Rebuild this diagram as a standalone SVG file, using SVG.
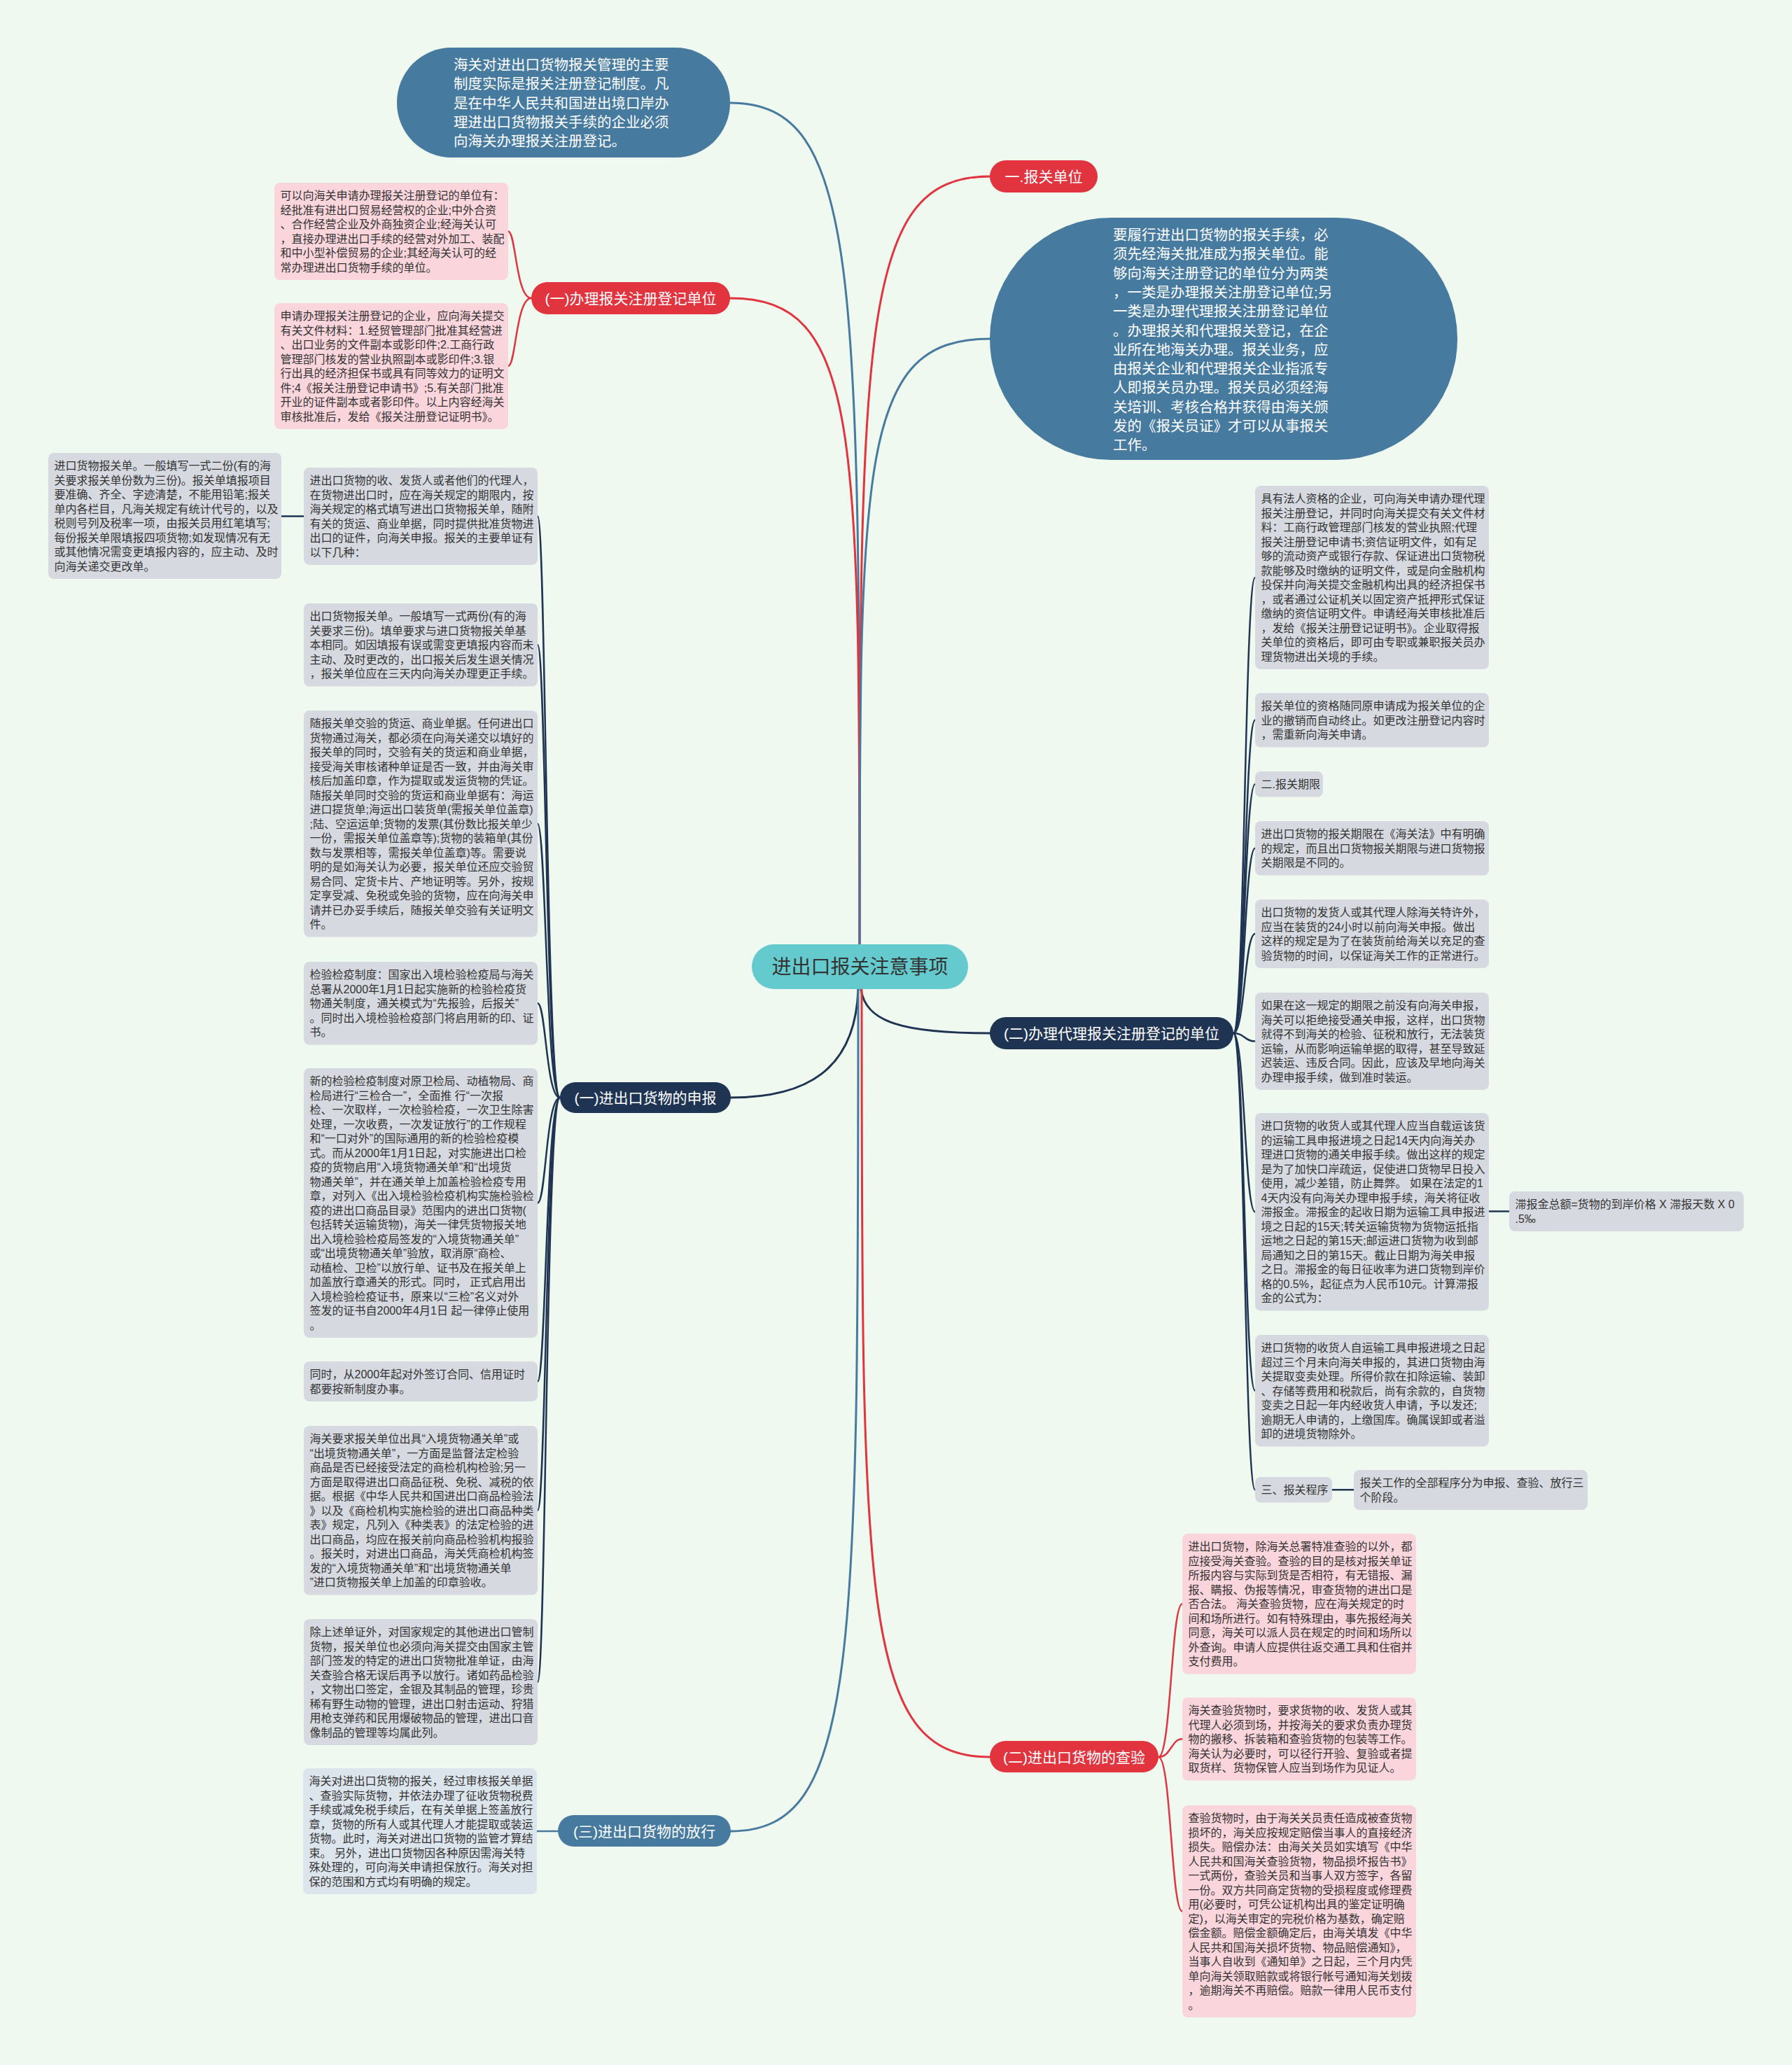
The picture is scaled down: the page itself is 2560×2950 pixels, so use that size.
<svg xmlns="http://www.w3.org/2000/svg" width="2560" height="2950" viewBox="0 0 2560 2950">
<style>
text{font-family:"Liberation Sans","Noto Sans CJK SC",sans-serif;dominant-baseline:central}
.t16{font-size:16px;fill:#333}
.tb{font-size:20.5px;fill:#fff}
.tn{font-size:21px;fill:#fff;text-anchor:middle}
.gray{fill:#d6dae0}
.lblue{fill:#dce4ec}
.pink{fill:#fbd5dc}
.red{fill:#e1343f}
.navy{fill:#1f3453}
.blue{fill:#477a9f}
.c{fill:none;stroke-width:3;stroke-linecap:round}
.cr{stroke:#e1343f}.cn{stroke:#1f3453}.cb{stroke:#477a9f}
.k{fill:none;stroke-width:2.5;stroke-linecap:round}
</style>
<rect width="2560" height="2950" fill="#f0f9ef"/>
<g id="connectors">
<path class="c cb" d="M1228,1349 C1228,387 1228,147 1043,147"/>
<path class="c cr" d="M1228,1349 C1228,471 1228,252 1414,252"/>
<path class="c cr" d="M1228,1349 C1228,611 1228,426 1043,426"/>
<path class="c cb" d="M1228,1349 C1228,657 1228,484 1414,484"/>
<path class="c cn" d="M1230,1413 C1236,1460 1290,1476 1414,1476"/>
<path class="c cn" d="M1226,1413 C1222,1530 1150,1568 1044,1568"/>
<path class="c cr" d="M1231,1413 C1231,2291 1231,2510 1414,2510"/>
<path class="c cb" d="M1226,1413 C1226,2375 1226,2616 1044,2616"/>
<path class="k cr" d="M759,426 C737,426 737,330.5 726,330.5"/>
<path class="k cr" d="M759,426 C737,426 737,523 726,523"/>
<path class="k cn" d="M800,1568 C780,1568 780,737.5 768,737.5"/>
<path class="k cn" d="M800,1568 C780,1568 780,921.25 768,921.25"/>
<path class="k cn" d="M800,1568 C780,1568 780,1176.75 768,1176.75"/>
<path class="k cn" d="M800,1568 C780,1568 780,1433.25 768,1433.25"/>
<path class="k cn" d="M800,1568 C780,1568 780,1718.5 768,1718.5"/>
<path class="k cn" d="M800,1568 C780,1568 780,1973.5 768,1973.5"/>
<path class="k cn" d="M800,1568 C780,1568 780,2157.75 768,2157.75"/>
<path class="k cn" d="M800,1568 C780,1568 780,2403 768,2403"/>
<path class="k cn" d="M402,737.5 L434,737.5"/>
<path class="k cb" d="M767,2616 L797,2616"/>
<path class="k cn" d="M1762,1476 C1778,1476 1778,825 1793,825"/>
<path class="k cn" d="M1762,1476 C1778,1476 1778,1028.75 1793,1028.75"/>
<path class="k cn" d="M1762,1476 C1778,1476 1778,1120.25 1793,1120.25"/>
<path class="k cn" d="M1762,1476 C1778,1476 1778,1211.75 1793,1211.75"/>
<path class="k cn" d="M1762,1476 C1778,1476 1778,1334 1793,1334"/>
<path class="k cn" d="M1762,1476 C1778,1476 1778,1487.5 1793,1487.5"/>
<path class="k cn" d="M1762,1476 C1778,1476 1778,1731.25 1793,1731.25"/>
<path class="k cn" d="M1762,1476 C1778,1476 1778,1986.75 1793,1986.75"/>
<path class="k cn" d="M1762,1476 C1778,1476 1778,2128.25 1793,2128.25"/>
<path class="k cn" d="M2127,1730.5 L2156,1730.5"/>
<path class="k cn" d="M1903,2128.25 L1934,2128.25"/>
<path class="k cr" d="M1655,2510 C1673,2510 1673,2291.25 1689,2291.25"/>
<path class="k cr" d="M1655,2510 C1673,2510 1673,2484.25 1689,2484.25"/>
<path class="k cr" d="M1655,2510 C1673,2510 1673,2730.5 1689,2730.5"/>
</g>
<g id="root">
<rect x="1074" y="1349" width="309" height="64" rx="32" fill="#64cacd"/>
<text x="1228.5" y="1381" font-size="28" fill="#333" text-anchor="middle">进出口报关注意事项</text>
</g>
<g id="top-oval">
<rect class="blue" x="567" y="68" width="476" height="157" rx="78"/>
<text class="tb"><tspan x="648" y="92">海关对进出口货物报关管理的主要</tspan><tspan x="648" y="119.3">制度实际是报关注册登记制度。凡</tspan><tspan x="648" y="146.6">是在中华人民共和国进出境口岸办</tspan><tspan x="648" y="173.9">理进出口货物报关手续的企业必须</tspan><tspan x="648" y="201.2">向海关办理报关注册登记。</tspan></text>
</g>
<g id="n-baoguan-danwei">
<rect class="red" x="1414" y="229" width="154" height="46" rx="23"/>
<text class="tn" x="1491" y="252">一.报关单位</text>
</g>
<g id="big-oval">
<rect class="blue" x="1414" y="311" width="668" height="346" rx="173"/>
<text class="tb"><tspan x="1590" y="335">要履行进出口货物的报关手续，必</tspan><tspan x="1590" y="362.3">须先经海关批准成为报关单位。能</tspan><tspan x="1590" y="389.6">够向海关注册登记的单位分为两类</tspan><tspan x="1590" y="416.9">，一类是办理报关注册登记单位;另</tspan><tspan x="1590" y="444.2">一类是办理代理报关注册登记单位</tspan><tspan x="1590" y="471.5">。办理报关和代理报关登记，在企</tspan><tspan x="1590" y="498.8">业所在地海关办理。报关业务，应</tspan><tspan x="1590" y="526.1">由报关企业和代理报关企业指派专</tspan><tspan x="1590" y="553.4">人即报关员办理。报关员必须经海</tspan><tspan x="1590" y="580.7">关培训、考核合格并获得由海关颁</tspan><tspan x="1590" y="608">发的《报关员证》才可以从事报关</tspan><tspan x="1590" y="635.3">工作。</tspan></text>
</g>
<g id="n-banli">
<rect class="red" x="759" y="403" width="284" height="46" rx="23"/>
<text class="tn" x="901" y="426">(一)办理报关注册登记单位</text>
</g>
<g id="pb1">
<rect class="pink" x="392" y="261" width="334" height="139" rx="8"/>
<text class="t16"><tspan x="400.5" y="279.25">可以向海关申请办理报关注册登记的单位有：</tspan><tspan x="400.5" y="299.75">经批准有进出口贸易经营权的企业;中外合资</tspan><tspan x="400.5" y="320.25">、合作经营企业及外商独资企业;经海关认可</tspan><tspan x="400.5" y="340.75">，直接办理进出口手续的经营对外加工、装配</tspan><tspan x="400.5" y="361.25">和中小型补偿贸易的企业;其经海关认可的经</tspan><tspan x="400.5" y="381.75">常办理进出口货物手续的单位。</tspan></text>
</g>
<g id="pb2">
<rect class="pink" x="392" y="433" width="334" height="180" rx="8"/>
<text class="t16"><tspan x="400.5" y="451.25">申请办理报关注册登记的企业，应向海关提交</tspan><tspan x="400.5" y="471.75">有关文件材料：1.经贸管理部门批准其经营进</tspan><tspan x="400.5" y="492.25">、出口业务的文件副本或影印件;2.工商行政</tspan><tspan x="400.5" y="512.75">管理部门核发的营业执照副本或影印件;3.银</tspan><tspan x="400.5" y="533.25">行出具的经济担保书或具有同等效力的证明文</tspan><tspan x="400.5" y="553.75">件;4《报关注册登记申请书》;5.有关部门批准</tspan><tspan x="400.5" y="574.25">开业的证件副本或者影印件。以上内容经海关</tspan><tspan x="400.5" y="594.75">审核批准后，发给《报关注册登记证明书》。</tspan></text>
</g>
<g id="n-daili">
<rect class="navy" x="1414" y="1453" width="348" height="46" rx="23"/>
<text class="tn" x="1588" y="1476">(二)办理代理报关注册登记的单位</text>
</g>
<g id="n-shenbao">
<rect class="navy" x="800" y="1546" width="244" height="44" rx="22"/>
<text class="tn" x="922" y="1568">(一)进出口货物的申报</text>
</g>
<g id="n-chayan">
<rect class="red" x="1414" y="2487" width="241" height="45" rx="22.5"/>
<text class="tn" x="1534.5" y="2510">(二)进出口货物的查验</text>
</g>
<g id="n-fangxing">
<rect class="blue" x="797" y="2593" width="247" height="45" rx="22.5"/>
<text class="tn" x="920.5" y="2616">(三)进出口货物的放行</text>
</g>
<g id="box-L">
<rect class="gray" x="69" y="647" width="333" height="180" rx="8"/>
<text class="t16"><tspan x="77.5" y="665.25">进口货物报关单。一般填写一式二份(有的海</tspan><tspan x="77.5" y="685.75">关要求报关单份数为三份)。报关单填报项目</tspan><tspan x="77.5" y="706.25">要准确、齐全、字迹清楚，不能用铅笔;报关</tspan><tspan x="77.5" y="726.75">单内各栏目，凡海关规定有统计代号的，以及</tspan><tspan x="77.5" y="747.25">税则号列及税率一项，由报关员用红笔填写;</tspan><tspan x="77.5" y="767.75">每份报关单限填报四项货物;如发现情况有无</tspan><tspan x="77.5" y="788.25">或其他情况需变更填报内容的，应主动、及时</tspan><tspan x="77.5" y="808.75">向海关递交更改单。</tspan></text>
</g>
<g id="box-A">
<rect class="gray" x="434" y="668" width="334" height="139" rx="8"/>
<text class="t16"><tspan x="442.5" y="686.25">进出口货物的收、发货人或者他们的代理人，</tspan><tspan x="442.5" y="706.75">在货物进出口时，应在海关规定的期限内，按</tspan><tspan x="442.5" y="727.25">海关规定的格式填写进出口货物报关单，随附</tspan><tspan x="442.5" y="747.75">有关的货运、商业单据，同时提供批准货物进</tspan><tspan x="442.5" y="768.25">出口的证件，向海关申报。报关的主要单证有</tspan><tspan x="442.5" y="788.75">以下几种：</tspan></text>
</g>
<g id="box-B">
<rect class="gray" x="434" y="862" width="334" height="118.5" rx="8"/>
<text class="t16"><tspan x="442.5" y="880.25">出口货物报关单。一般填写一式两份(有的海</tspan><tspan x="442.5" y="900.75">关要求三份)。填单要求与进口货物报关单基</tspan><tspan x="442.5" y="921.25">本相同。如因填报有误或需变更填报内容而未</tspan><tspan x="442.5" y="941.75">主动、及时更改的，出口报关后发生退关情况</tspan><tspan x="442.5" y="962.25">，报关单位应在三天内向海关办理更正手续。</tspan></text>
</g>
<g id="box-C">
<rect class="gray" x="434" y="1015" width="334" height="323.5" rx="8"/>
<text class="t16"><tspan x="442.5" y="1033.25">随报关单交验的货运、商业单据。任何进出口</tspan><tspan x="442.5" y="1053.75">货物通过海关，都必须在向海关递交以填好的</tspan><tspan x="442.5" y="1074.25">报关单的同时，交验有关的货运和商业单据，</tspan><tspan x="442.5" y="1094.75">接受海关审核诸种单证是否一致，并由海关审</tspan><tspan x="442.5" y="1115.25">核后加盖印章，作为提取或发运货物的凭证。</tspan><tspan x="442.5" y="1135.75">随报关单同时交验的货运和商业单据有：海运</tspan><tspan x="442.5" y="1156.25">进口提货单;海运出口装货单(需报关单位盖章)</tspan><tspan x="442.5" y="1176.75">;陆、空运运单;货物的发票(其份数比报关单少</tspan><tspan x="442.5" y="1197.25">一份，需报关单位盖章等);货物的装箱单(其份</tspan><tspan x="442.5" y="1217.75">数与发票相等，需报关单位盖章)等。需要说</tspan><tspan x="442.5" y="1238.25">明的是如海关认为必要，报关单位还应交验贸</tspan><tspan x="442.5" y="1258.75">易合同、定货卡片、产地证明等。另外，按规</tspan><tspan x="442.5" y="1279.25">定享受减、免税或免验的货物，应在向海关申</tspan><tspan x="442.5" y="1299.75">请并已办妥手续后，随报关单交验有关证明文</tspan><tspan x="442.5" y="1320.25">件。</tspan></text>
</g>
<g id="box-D">
<rect class="gray" x="434" y="1374" width="334" height="118.5" rx="8"/>
<text class="t16"><tspan x="442.5" y="1392.25">检验检疫制度：国家出入境检验检疫局与海关</tspan><tspan x="442.5" y="1412.75">总署从2000年1月1日起实施新的检验检疫货</tspan><tspan x="442.5" y="1433.25">物通关制度，通关模式为“先报验，后报关”</tspan><tspan x="442.5" y="1453.75">。同时出入境检验检疫部门将启用新的印、证</tspan><tspan x="442.5" y="1474.25">书。</tspan></text>
</g>
<g id="box-E">
<rect class="gray" x="434" y="1526" width="334" height="385" rx="8"/>
<text class="t16"><tspan x="442.5" y="1544.25">新的检验检疫制度对原卫检局、动植物局、商</tspan><tspan x="442.5" y="1564.75">检局进行“三检合一”，全面推 行“一次报</tspan><tspan x="442.5" y="1585.25">检、一次取样，一次检验检疫，一次卫生除害</tspan><tspan x="442.5" y="1605.75">处理，一次收费，一次发证放行”的工作规程</tspan><tspan x="442.5" y="1626.25">和“一口对外”的国际通用的新的检验检疫模</tspan><tspan x="442.5" y="1646.75">式。而从2000年1月1日起，对实施进出口检</tspan><tspan x="442.5" y="1667.25">疫的货物启用“入境货物通关单”和“出境货</tspan><tspan x="442.5" y="1687.75">物通关单”，并在通关单上加盖检验检疫专用</tspan><tspan x="442.5" y="1708.25">章，对列入《出入境检验检疫机构实施检验检</tspan><tspan x="442.5" y="1728.75">疫的进出口商品目录》范围内的进出口货物(</tspan><tspan x="442.5" y="1749.25">包括转关运输货物)，海关一律凭货物报关地</tspan><tspan x="442.5" y="1769.75">出入境检验检疫局签发的“入境货物通关单”</tspan><tspan x="442.5" y="1790.25">或“出境货物通关单”验放，取消原“商检、</tspan><tspan x="442.5" y="1810.75">动植检、卫检”以放行单、证书及在报关单上</tspan><tspan x="442.5" y="1831.25">加盖放行章通关的形式。同时， 正式启用出</tspan><tspan x="442.5" y="1851.75">入境检验检疫证书，原来以“三检”名义对外</tspan><tspan x="442.5" y="1872.25">签发的证书自2000年4月1日 起一律停止使用</tspan><tspan x="442.5" y="1892.75">。</tspan></text>
</g>
<g id="box-F">
<rect class="gray" x="434" y="1945" width="334" height="57" rx="8"/>
<text class="t16"><tspan x="442.5" y="1963.25">同时，从2000年起对外签订合同、信用证时</tspan><tspan x="442.5" y="1983.75">都要按新制度办事。</tspan></text>
</g>
<g id="box-G">
<rect class="gray" x="434" y="2037" width="334" height="241.5" rx="8"/>
<text class="t16"><tspan x="442.5" y="2055.25">海关要求报关单位出具“入境货物通关单”或</tspan><tspan x="442.5" y="2075.75">“出境货物通关单”，一方面是监督法定检验</tspan><tspan x="442.5" y="2096.25">商品是否已经接受法定的商检机构检验;另一</tspan><tspan x="442.5" y="2116.75">方面是取得进出口商品征税、免税、减税的依</tspan><tspan x="442.5" y="2137.25">据。根据《中华人民共和国进出口商品检验法</tspan><tspan x="442.5" y="2157.75">》以及《商检机构实施检验的进出口商品种类</tspan><tspan x="442.5" y="2178.25">表》规定，凡列入《种类表》的法定检验的进</tspan><tspan x="442.5" y="2198.75">出口商品，均应在报关前向商品检验机构报验</tspan><tspan x="442.5" y="2219.25">。报关时，对进出口商品，海关凭商检机构签</tspan><tspan x="442.5" y="2239.75">发的“入境货物通关单”和“出境货物通关单</tspan><tspan x="442.5" y="2260.25">”进口货物报关单上加盖的印章验收。</tspan></text>
</g>
<g id="box-H">
<rect class="gray" x="434" y="2313" width="334" height="180" rx="8"/>
<text class="t16"><tspan x="442.5" y="2331.25">除上述单证外，对国家规定的其他进出口管制</tspan><tspan x="442.5" y="2351.75">货物，报关单位也必须向海关提交由国家主管</tspan><tspan x="442.5" y="2372.25">部门签发的特定的进出口货物批准单证，由海</tspan><tspan x="442.5" y="2392.75">关查验合格无误后再予以放行。诸如药品检验</tspan><tspan x="442.5" y="2413.25">，文物出口签定，金银及其制品的管理，珍贵</tspan><tspan x="442.5" y="2433.75">稀有野生动物的管理，进出口射击运动、狩猎</tspan><tspan x="442.5" y="2454.25">用枪支弹药和民用爆破物品的管理，进出口音</tspan><tspan x="442.5" y="2474.75">像制品的管理等均属此列。</tspan></text>
</g>
<g id="box-I">
<rect class="lblue" x="433" y="2526" width="334" height="180" rx="8"/>
<text class="t16"><tspan x="441.5" y="2544.25">海关对进出口货物的报关，经过审核报关单据</tspan><tspan x="441.5" y="2564.75">、查验实际货物，并依法办理了征收货物税费</tspan><tspan x="441.5" y="2585.25">手续或减免税手续后，在有关单据上签盖放行</tspan><tspan x="441.5" y="2605.75">章，货物的所有人或其代理人才能提取或装运</tspan><tspan x="441.5" y="2626.25">货物。此时，海关对进出口货物的监管才算结</tspan><tspan x="441.5" y="2646.75">束。 另外，进出口货物因各种原因需海关特</tspan><tspan x="441.5" y="2667.25">殊处理的，可向海关申请担保放行。海关对担</tspan><tspan x="441.5" y="2687.75">保的范围和方式均有明确的规定。</tspan></text>
</g>
<g id="box-R1">
<rect class="gray" x="1793" y="694" width="334" height="262" rx="8"/>
<text class="t16"><tspan x="1801.5" y="712.25">具有法人资格的企业，可向海关申请办理代理</tspan><tspan x="1801.5" y="732.75">报关注册登记，并同时向海关提交有关文件材</tspan><tspan x="1801.5" y="753.25">料：工商行政管理部门核发的营业执照;代理</tspan><tspan x="1801.5" y="773.75">报关注册登记申请书;资信证明文件，如有足</tspan><tspan x="1801.5" y="794.25">够的流动资产或银行存款、保证进出口货物税</tspan><tspan x="1801.5" y="814.75">款能够及时缴纳的证明文件，或是向金融机构</tspan><tspan x="1801.5" y="835.25">投保并向海关提交金融机构出具的经济担保书</tspan><tspan x="1801.5" y="855.75">，或者通过公证机关以固定资产抵押形式保证</tspan><tspan x="1801.5" y="876.25">缴纳的资信证明文件。申请经海关审核批准后</tspan><tspan x="1801.5" y="896.75">，发给《报关注册登记证明书》。企业取得报</tspan><tspan x="1801.5" y="917.25">关单位的资格后，即可由专职或兼职报关员办</tspan><tspan x="1801.5" y="937.75">理货物进出关境的手续。</tspan></text>
</g>
<g id="box-R2">
<rect class="gray" x="1793" y="990" width="334" height="77.5" rx="8"/>
<text class="t16"><tspan x="1801.5" y="1008.25">报关单位的资格随同原申请成为报关单位的企</tspan><tspan x="1801.5" y="1028.75">业的撤销而自动终止。如更改注册登记内容时</tspan><tspan x="1801.5" y="1049.25">，需重新向海关申请。</tspan></text>
</g>
<g id="box-R3">
<rect class="gray" x="1793" y="1102" width="97" height="36.5" rx="8"/>
<text class="t16" x="1801.5" y="1120.25">二.报关期限</text>
</g>
<g id="box-R4">
<rect class="gray" x="1793" y="1173" width="334" height="77.5" rx="8"/>
<text class="t16"><tspan x="1801.5" y="1191.25">进出口货物的报关期限在《海关法》中有明确</tspan><tspan x="1801.5" y="1211.75">的规定，而且出口货物报关期限与进口货物报</tspan><tspan x="1801.5" y="1232.25">关期限是不同的。</tspan></text>
</g>
<g id="box-R5">
<rect class="gray" x="1793" y="1285" width="334" height="98" rx="8"/>
<text class="t16"><tspan x="1801.5" y="1303.25">出口货物的发货人或其代理人除海关特许外，</tspan><tspan x="1801.5" y="1323.75">应当在装货的24小时以前向海关申报。做出</tspan><tspan x="1801.5" y="1344.25">这样的规定是为了在装货前给海关以充足的查</tspan><tspan x="1801.5" y="1364.75">验货物的时间，以保证海关工作的正常进行。</tspan></text>
</g>
<g id="box-R6">
<rect class="gray" x="1793" y="1418" width="334" height="139" rx="8"/>
<text class="t16"><tspan x="1801.5" y="1436.25">如果在这一规定的期限之前没有向海关申报，</tspan><tspan x="1801.5" y="1456.75">海关可以拒绝接受通关申报，这样，出口货物</tspan><tspan x="1801.5" y="1477.25">就得不到海关的检验、征税和放行，无法装货</tspan><tspan x="1801.5" y="1497.75">运输，从而影响运输单据的取得，甚至导致延</tspan><tspan x="1801.5" y="1518.25">迟装运、违反合同。因此，应该及早地向海关</tspan><tspan x="1801.5" y="1538.75">办理申报手续，做到准时装运。</tspan></text>
</g>
<g id="box-R7">
<rect class="gray" x="1793" y="1590" width="334" height="282.5" rx="8"/>
<text class="t16"><tspan x="1801.5" y="1608.25">进口货物的收货人或其代理人应当自载运该货</tspan><tspan x="1801.5" y="1628.75">的运输工具申报进境之日起14天内向海关办</tspan><tspan x="1801.5" y="1649.25">理进口货物的通关申报手续。做出这样的规定</tspan><tspan x="1801.5" y="1669.75">是为了加快口岸疏运，促使进口货物早日投入</tspan><tspan x="1801.5" y="1690.25">使用，减少差错，防止舞弊。 如果在法定的1</tspan><tspan x="1801.5" y="1710.75">4天内没有向海关办理申报手续，海关将征收</tspan><tspan x="1801.5" y="1731.25">滞报金。滞报金的起收日期为运输工具申报进</tspan><tspan x="1801.5" y="1751.75">境之日起的15天;转关运输货物为货物运抵指</tspan><tspan x="1801.5" y="1772.25">运地之日起的第15天;邮运进口货物为收到邮</tspan><tspan x="1801.5" y="1792.75">局通知之日的第15天。截止日期为海关申报</tspan><tspan x="1801.5" y="1813.25">之日。滞报金的每日征收率为进口货物到岸价</tspan><tspan x="1801.5" y="1833.75">格的0.5%，起征点为人民币10元。计算滞报</tspan><tspan x="1801.5" y="1854.25">金的公式为：</tspan></text>
</g>
<g id="box-R7c">
<rect class="gray" x="2156" y="1702" width="335" height="57" rx="8"/>
<text class="t16"><tspan x="2164.5" y="1720.25">滞报金总额=货物的到岸价格 X 滞报天数 X 0</tspan><tspan x="2164.5" y="1740.75">.5‰</tspan></text>
</g>
<g id="box-R8">
<rect class="gray" x="1793" y="1907" width="334" height="159.5" rx="8"/>
<text class="t16"><tspan x="1801.5" y="1925.25">进口货物的收货人自运输工具申报进境之日起</tspan><tspan x="1801.5" y="1945.75">超过三个月未向海关申报的，其进口货物由海</tspan><tspan x="1801.5" y="1966.25">关提取变卖处理。所得价款在扣除运输、装卸</tspan><tspan x="1801.5" y="1986.75">、存储等费用和税款后，尚有余款的，自货物</tspan><tspan x="1801.5" y="2007.25">变卖之日起一年内经收货人申请，予以发还;</tspan><tspan x="1801.5" y="2027.75">逾期无人申请的，上缴国库。确属误卸或者溢</tspan><tspan x="1801.5" y="2048.25">卸的进境货物除外。</tspan></text>
</g>
<g id="box-R9">
<rect class="gray" x="1793" y="2110" width="110" height="36.5" rx="8"/>
<text class="t16" x="1801.5" y="2128.25">三、报关程序</text>
</g>
<g id="box-R9c">
<rect class="gray" x="1934" y="2100" width="334" height="57" rx="8"/>
<text class="t16"><tspan x="1942.5" y="2118.25">报关工作的全部程序分为申报、查验、放行三</tspan><tspan x="1942.5" y="2138.75">个阶段。</tspan></text>
</g>
<g id="box-P1">
<rect class="pink" x="1689" y="2191" width="334" height="200.5" rx="8"/>
<text class="t16"><tspan x="1697.5" y="2209.25">进出口货物，除海关总署特准查验的以外，都</tspan><tspan x="1697.5" y="2229.75">应接受海关查验。查验的目的是核对报关单证</tspan><tspan x="1697.5" y="2250.25">所报内容与实际到货是否相符，有无错报、漏</tspan><tspan x="1697.5" y="2270.75">报、瞒报、伪报等情况，审查货物的进出口是</tspan><tspan x="1697.5" y="2291.25">否合法。 海关查验货物，应在海关规定的时</tspan><tspan x="1697.5" y="2311.75">间和场所进行。如有特殊理由，事先报经海关</tspan><tspan x="1697.5" y="2332.25">同意，海关可以派人员在规定的时间和场所以</tspan><tspan x="1697.5" y="2352.75">外查询。申请人应提供往返交通工具和住宿并</tspan><tspan x="1697.5" y="2373.25">支付费用。</tspan></text>
</g>
<g id="box-P2">
<rect class="pink" x="1689" y="2425" width="334" height="118.5" rx="8"/>
<text class="t16"><tspan x="1697.5" y="2443.25">海关查验货物时，要求货物的收、发货人或其</tspan><tspan x="1697.5" y="2463.75">代理人必须到场，并按海关的要求负责办理货</tspan><tspan x="1697.5" y="2484.25">物的搬移、拆装箱和查验货物的包装等工作。</tspan><tspan x="1697.5" y="2504.75">海关认为必要时，可以径行开验、复验或者提</tspan><tspan x="1697.5" y="2525.25">取货样、货物保管人应当到场作为见证人。</tspan></text>
</g>
<g id="box-P3">
<rect class="pink" x="1689" y="2579" width="334" height="303" rx="8"/>
<text class="t16"><tspan x="1697.5" y="2597.25">查验货物时，由于海关关员责任造成被查货物</tspan><tspan x="1697.5" y="2617.75">损坏的，海关应按规定赔偿当事人的直接经济</tspan><tspan x="1697.5" y="2638.25">损失。赔偿办法：由海关关员如实填写《中华</tspan><tspan x="1697.5" y="2658.75">人民共和国海关查验货物，物品损坏报告书》</tspan><tspan x="1697.5" y="2679.25">一式两份，查验关员和当事人双方签字，各留</tspan><tspan x="1697.5" y="2699.75">一份。双方共同商定货物的受损程度或修理费</tspan><tspan x="1697.5" y="2720.25">用(必要时，可凭公证机构出具的鉴定证明确</tspan><tspan x="1697.5" y="2740.75">定)，以海关审定的完税价格为基数，确定赔</tspan><tspan x="1697.5" y="2761.25">偿金额。赔偿金额确定后，由海关填发《中华</tspan><tspan x="1697.5" y="2781.75">人民共和国海关损坏货物、物品赔偿通知》，</tspan><tspan x="1697.5" y="2802.25">当事人自收到《通知单》之日起，三个月内凭</tspan><tspan x="1697.5" y="2822.75">单向海关领取赔款或将银行帐号通知海关划拨</tspan><tspan x="1697.5" y="2843.25">，逾期海关不再赔偿。赔款一律用人民币支付</tspan><tspan x="1697.5" y="2863.75">。</tspan></text>
</g>
</svg>
